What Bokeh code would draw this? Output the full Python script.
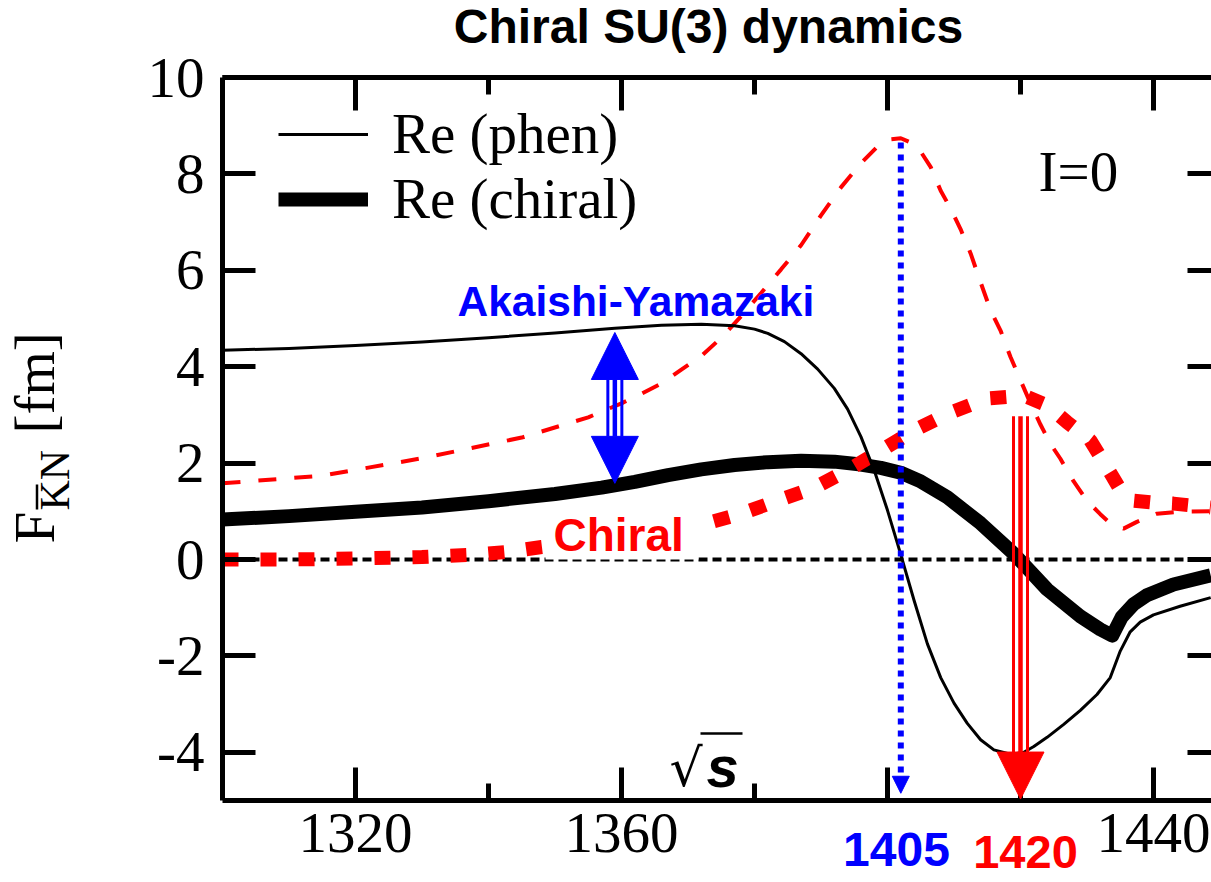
import math
from bokeh.plotting import figure
from bokeh.models import (FixedTicker, LinearAxis, Range1d, Label, Arrow, NormalHead,
                          Legend, LegendItem)
from bokeh.embed import file_html
from bokeh.resources import INLINE

# ---------------- data ----------------
phen_re_x = [1300, 1310, 1320, 1330, 1340, 1350, 1359, 1366, 1372, 1377, 1380, 1382, 1384.5,
             1387, 1389.5, 1392, 1394, 1396, 1398, 1400, 1402, 1404, 1406, 1408, 1410, 1412,
             1414, 1416, 1418.5, 1420.5, 1422, 1424, 1426.5, 1429, 1431.5, 1433.5, 1435,
             1436.5, 1438, 1440, 1444, 1448.6]
phen_re_y = [4.34, 4.38, 4.44, 4.51, 4.60, 4.70, 4.80, 4.86, 4.88, 4.85, 4.78, 4.69, 4.52,
             4.27, 3.95, 3.55, 3.12, 2.55, 1.85, 1.02, 0.10, -0.85, -1.75, -2.45, -2.98, -3.40,
             -3.74, -3.95, -4.04, -4.00, -3.88, -3.69, -3.42, -3.13, -2.80, -2.45, -1.90,
             -1.50, -1.30, -1.15, -0.97, -0.79]

chiral_re_x = [1300, 1310, 1320, 1330, 1340, 1350, 1357, 1362, 1367, 1372, 1377, 1382, 1387,
               1392, 1396, 1399, 1402, 1405, 1409, 1414, 1419, 1424, 1429, 1432, 1433.8,
               1435.2, 1437, 1439, 1443, 1448.6]
chiral_re_y = [0.83, 0.90, 0.99, 1.08, 1.21, 1.36, 1.49, 1.61, 1.75, 1.87, 1.96, 2.02, 2.05,
               2.03, 1.97, 1.90, 1.80, 1.62, 1.29, 0.75, 0.12, -0.62, -1.18, -1.45, -1.58,
               -1.20, -0.93, -0.74, -0.52, -0.33]

phen_im_x = [1300, 1315, 1330, 1345, 1355, 1360, 1363, 1366, 1369, 1372, 1375, 1378, 1381, 1384,
             1387, 1390, 1393, 1396, 1398.5, 1400.5, 1402, 1403.5, 1405, 1406.5, 1408, 1409.5,
             1411, 1412.5, 1414, 1415.5, 1417, 1418.5, 1420, 1421.5, 1423, 1424.5, 1426, 1428,
             1430, 1432, 1433.5, 1435.5, 1437.5, 1440.5, 1444, 1448.6]
phen_im_y = [1.58, 1.74, 2.10, 2.53, 2.95, 3.24, 3.44, 3.65, 3.94, 4.22, 4.60, 5.05, 5.53, 6.02,
             6.52, 7.14, 7.72, 8.22, 8.57, 8.72, 8.74, 8.65, 8.46, 8.14, 7.65, 7.28, 6.85, 6.35,
             5.75, 5.17, 4.75, 4.20, 3.72, 3.24, 2.80, 2.40, 2.09, 1.62, 1.22, 0.94, 0.75, 0.64,
             0.78, 0.95, 0.99, 1.00]

chiral_im_x = [1300, 1310, 1320, 1330, 1338, 1343, 1348, 1355, 1362, 1368, 1372, 1378, 1383,
               1389, 1394, 1399, 1404, 1409.5, 1415, 1420.5, 1424, 1427, 1430.5, 1433.5, 1435,
               1437, 1440, 1443, 1448.6]
chiral_im_y = [0.00, 0.00, 0.02, 0.05, 0.10, 0.16, 0.26, 0.38, 0.52, 0.63, 0.72, 0.95, 1.20,
               1.49, 1.85, 2.26, 2.68, 3.05, 3.34, 3.40, 3.20, 2.85, 2.47, 1.80, 1.45, 1.22,
               1.18, 1.16, 1.08]

x_ticks = [1320, 1360, 1400, 1440]
x_tick_labels = ["1320", "1360", "", "1440"]
x_minor = [1340, 1380, 1420]
y_ticks = [-4, -2, 0, 2, 4, 6, 8, 10]
y_tick_labels = ["-4", "-2", "0", "2", "4", "6", "8", "10"]
x_axis_start, x_axis_end = 1300, 1450
y_axis_start, y_axis_end = -5, 10
zero_level = 0.0

ay_x, ay_top, ay_bot = 1359.0, 4.71, 1.58            # Akaishi-Yamazaki double arrow
l1405_x, l1405_top, l1405_tip = 1402.0, 8.65, -4.85  # blue dotted marker
l1420_x, l1420_top, l1420_tip = 1420.0, 2.97, -4.97  # red arrow

# ---------------- layout helpers ----------------
W, H = 1211, 882
FL, FT, FB = 222, 77, 800          # where the axes lie, in page px
PXX = 6.65                         # px per x unit
PXY = (FB - FT) / (y_axis_end - y_axis_start)
BASE = 0.37                        # baseline correction of labels (fraction of font size)


def sx(px):
    return x_axis_start + (px - FL) / PXX


def sy(py):
    return y_axis_start + (FB - py) / PXY


RED = "#ff0000"
BLUE = "#0000ff"
SERIF = "Liberation Serif"
SANS = "Liberation Sans"

p = figure(width=W, height=H, output_backend="svg", toolbar_location=None,
           x_range=Range1d(sx(0), sx(W)), y_range=Range1d(sy(H), sy(0)),
           x_axis_location=None, y_axis_location=None,
           min_border_left=0, min_border_right=0, min_border_top=0, min_border_bottom=0)
p.xgrid.visible = False
p.ygrid.visible = False
p.outline_line_color = None
p.background_fill_color = "white"
p.border_fill_color = "white"


def style_axis(ax, ticks, minor, labels, overrides, line=True, standoff=15):
    ax.ticker = FixedTicker(ticks=ticks, minor_ticks=minor)
    ax.major_tick_in = 33
    ax.major_tick_out = 0
    ax.minor_tick_in = 17
    ax.minor_tick_out = 0
    ax.major_tick_line_width = 5
    ax.minor_tick_line_width = 5
    ax.major_tick_line_color = "black"
    ax.minor_tick_line_color = "black"
    if line:
        ax.axis_line_width = 5
        ax.axis_line_color = "black"
    else:
        ax.axis_line_color = None
    ax.major_label_text_font = SERIF
    ax.major_label_text_font_size = "57px"
    ax.major_label_standoff = standoff
    if labels:
        ax.major_label_text_color = "black"
        ax.major_label_overrides = overrides
    else:
        ax.major_label_text_color = None


xb = LinearAxis(fixed_location=y_axis_start, bounds=(x_axis_start, x_axis_end))
style_axis(xb, x_ticks, x_minor, True, dict(zip(x_ticks, x_tick_labels)), standoff=13)
p.add_layout(xb, "below")
xt = LinearAxis(fixed_location=y_axis_end, bounds=(x_axis_start, x_axis_end))
style_axis(xt, x_ticks, x_minor, False, {})
p.add_layout(xt, "above")
yl = LinearAxis(fixed_location=x_axis_start, bounds=(y_axis_start, y_axis_end))
style_axis(yl, y_ticks, [], True, dict(zip(y_ticks, y_tick_labels)), standoff=18)
p.add_layout(yl, "left")
yr = LinearAxis(fixed_location=x_axis_end, bounds=(y_axis_start, y_axis_end))
style_axis(yr, y_ticks, [], False, {})
p.add_layout(yr, "right")

# zero line (limited to the axis box)
p.segment(x0=[x_axis_start], y0=[zero_level], x1=[x_axis_end], y1=[zero_level],
          line_color="black", line_width=4, line_dash="9 5", level="underlay")

# curves
p.line(phen_im_x, phen_im_y, line_color=RED, line_width=4, line_dash="18 18")
r_chiral = p.line(chiral_re_x, chiral_re_y, line_color="black", line_width=14,
                  line_join="round")
p.line(chiral_im_x, chiral_im_y, line_color=RED, line_width=14, line_dash="16 22")
r_phen = p.line(phen_re_x, phen_re_y, line_color="black", line_width=3, line_join="round")

# white box behind the "Chiral" label
p.quad(left=[sx(545)], right=[sx(698)], bottom=[zero_level], top=[sy(506)],
       fill_color="white", line_color=None)

# legend (location = bottom-left corner, px from the canvas bottom-left)
legend = Legend(items=[LegendItem(label="Re (phen)", renderers=[r_phen]),
                       LegendItem(label="Re (chiral)", renderers=[r_chiral])],
                location=(278, H - 231), orientation="vertical",
                glyph_width=90, glyph_height=20, label_standoff=24,
                label_text_font=SERIF, label_text_font_size="57px",
                label_text_color="black", padding=0, margin=0, spacing=-4,
                border_line_color=None, background_fill_alpha=0)
p.add_layout(legend)


def label(text, px, py, size, color="black", font=SANS, style="normal",
          align="left", angle=0.0):
    # (px, py): page position of the start (or centre) of the text baseline
    if angle:
        px = px - BASE * size
    else:
        py = py - BASE * size
    p.add_layout(Label(x=sx(px), y=sy(py), text=text, text_font=font,
                       text_font_size=f"{size}px", text_font_style=style,
                       text_color=color, text_align=align,
                       text_baseline="alphabetic", angle=angle))


label("Chiral SU(3) dynamics", 708, 44, 48, style="bold", align="center")
label("Akaishi-Yamazaki", 457, 317, 42.5, color=BLUE, style="bold")
label("Chiral", 553, 552, 46, color=RED, style="bold")
label("1405", 896, 867, 48, color=BLUE, style="bold", align="center")
label("1420", 1025, 869, 47, color=RED, style="bold", align="center")
label("I=0", 1038, 192, 57, font=SERIF)

# y axis title  F_{K̄N} [fm]
label("F", 55, 543, 57, font=SERIF, angle=math.pi / 2)
label("KN", 70, 510, 42, font=SERIF, angle=math.pi / 2)
label("[fm]", 55, 433, 57, font=SERIF, angle=math.pi / 2)
p.add_layout(Arrow(x_start=sx(36.5), y_start=sy(509), x_end=sx(36.5), y_end=sy(484),
                   start=None, end=None, line_color="black", line_width=2.5))

# sqrt(s)
label("\u221a", 669, 787, 52, font="DejaVu Sans")
label("s", 706, 787, 58, style="bold italic")
p.add_layout(Arrow(x_start=sx(700), y_start=sy(733), x_end=sx(742), y_end=sy(733),
                   start=None, end=None, line_color="black", line_width=2.5))

# Akaishi-Yamazaki double arrow
head_u = 47 / PXY
off = 7 / PXX
for dx, lw in [(-off, 3), (0.0, 4.5), (off, 3)]:
    p.add_layout(Arrow(x_start=ay_x + dx, y_start=ay_bot + head_u, x_end=ay_x + dx,
                       y_end=ay_top - head_u, start=None, end=None,
                       line_color=BLUE, line_width=lw, line_cap="butt"))
p.add_layout(Arrow(x_start=ay_x, y_start=ay_bot, x_end=ay_x, y_end=ay_top,
                   start=NormalHead(size=47, fill_color=BLUE, line_color=BLUE),
                   end=NormalHead(size=47, fill_color=BLUE, line_color=BLUE),
                   line_alpha=0))

# 1405 blue dotted arrow
p.add_layout(Arrow(x_start=l1405_x, y_start=l1405_top, x_end=l1405_x, y_end=l1405_tip,
                   end=NormalHead(size=17, fill_color=BLUE, line_color=BLUE),
                   line_color=BLUE, line_width=6, line_dash="6 6"))

# 1420 red arrow
for dx, lw in [(-off, 3), (0.0, 4.5), (off, 3)]:
    p.add_layout(Arrow(x_start=l1420_x + dx, y_start=l1420_top, x_end=l1420_x + dx,
                       y_end=l1420_tip + head_u, start=None, end=None,
                       line_color=RED, line_width=lw, line_cap="butt"))
p.add_layout(Arrow(x_start=l1420_x, y_start=l1420_tip + 2 * head_u, x_end=l1420_x,
                   y_end=l1420_tip,
                   end=NormalHead(size=47, fill_color=RED, line_color=RED),
                   line_alpha=0))

open("out.html", "w").write(file_html(p, INLINE))
